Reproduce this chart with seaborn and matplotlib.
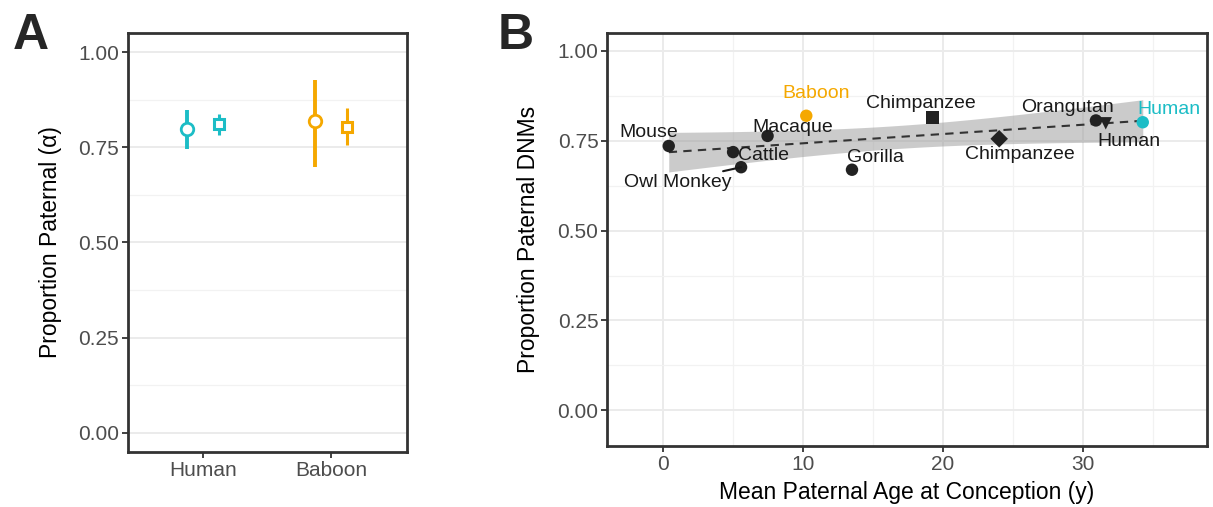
import numpy as np
import pandas as pd
import seaborn as sns
import matplotlib.pyplot as plt
from matplotlib.ticker import MultipleLocator

# Panel A: proportion paternal, two estimates per species
species_a = ["Human", "Baboon"]
circle_est = [0.799, 0.818]
circle_lo = [0.745, 0.697]
circle_hi = [0.847, 0.927]
square_est = [0.812, 0.802]
square_lo = [0.783, 0.756]
square_hi = [0.837, 0.852]

# Panel B: species values
labels_b = ["Mouse", "Cattle", "Owl Monkey", "Macaque", "Baboon", "Gorilla",
            "Chimpanzee", "Chimpanzee", "Orangutan", "Human", "Human"]
age_b = [0.43, 5.02, 5.59, 7.48, 10.24, 13.5, 19.24, 24.0, 30.9, 31.6, 34.24]
prop_b = [0.735, 0.718, 0.676, 0.763, 0.819, 0.669, 0.814, 0.755, 0.806, 0.798, 0.801]
shape_b = ["o", "o", "o", "o", "o", "o", "s", "D", "o", "v", "o"]
group_b = ["other", "other", "other", "other", "baboon", "other",
           "other", "other", "other", "other", "human"]

CYAN = "#1CBDC6"
ORANGE = "#F5A800"
DARK = "#222222"
palette = {"other": DARK, "baboon": ORANGE, "human": CYAN}

sns.set_theme(style="white")
plt.rcParams["font.family"] = ["Liberation Sans", "DejaVu Sans"]

fig = plt.figure(figsize=(12.13, 5.07), dpi=100)
ax_a = fig.add_axes([0.1055, 0.1085, 0.230, 0.8264])
ax_b = fig.add_axes([0.5008, 0.1209, 0.494, 0.814])

for ax in (ax_a, ax_b):
    for s in ax.spines.values():
        s.set_color("#333333")
        s.set_linewidth(2.0)
    ax.tick_params(axis="both", which="major", length=4.5, width=1.3, color="#333333",
                   labelcolor="#4D4D4D", labelsize=15, pad=2, bottom=True, left=True)
    ax.tick_params(which="minor", length=0)
    ax.set_axisbelow(True)

# ---- Panel A ----
xpos = np.arange(len(species_a))
cols = [CYAN, ORANGE]
for i in range(len(species_a)):
    ax_a.errorbar(xpos[i] - 0.125, circle_est[i],
                  yerr=[[circle_est[i] - circle_lo[i]], [circle_hi[i] - circle_est[i]]],
                  fmt="o", color=cols[i], mfc="white", mec=cols[i], ms=9, mew=2.0,
                  elinewidth=2.8, capsize=0, zorder=3)
    ax_a.errorbar(xpos[i] + 0.125, square_est[i],
                  yerr=[[square_est[i] - square_lo[i]], [square_hi[i] - square_est[i]]],
                  fmt="s", color=cols[i], mfc="white", mec=cols[i], ms=7.5, mew=2.2,
                  elinewidth=2.2, capsize=0, zorder=3)
ax_a.set_xlim(-0.59, 1.59)
ax_a.set_ylim(-0.05, 1.05)
ax_a.set_xticks(xpos)
ax_a.set_xticklabels(species_a)
ax_a.set_yticks([0, 0.25, 0.5, 0.75, 1.0])
ax_a.set_yticklabels(["0.00", "0.25", "0.50", "0.75", "1.00"])
ax_a.yaxis.set_minor_locator(MultipleLocator(0.125))
ax_a.grid(axis="y", which="major", color="#EBEBEB", lw=1.4)
ax_a.grid(axis="y", which="minor", color="#F2F2F2", lw=0.9)
ax_a.set_xlabel("")
ax_a.set_ylabel("Proportion Paternal (α)", fontsize=16.5, color="black")
ax_a.yaxis.set_label_coords(-0.237, 0.5)

# ---- Panel B ----
df = pd.DataFrame({"age": age_b, "prop": prop_b, "label": labels_b,
                   "shape": shape_b, "group": group_b})

# linear fit with analytic 95% band (like geom_smooth(method = "lm"))
x = df["age"].to_numpy()
y = df["prop"].to_numpy()
n = len(x)
slope, icpt = np.polyfit(x, y, 1)
resid = y - (icpt + slope * x)
s_err = np.sqrt(np.sum(resid ** 2) / (n - 2))
xg = np.linspace(x.min(), x.max(), 100)
se = s_err * np.sqrt(1 / n + (xg - x.mean()) ** 2 / np.sum((x - x.mean()) ** 2))
t975 = 2.262  # t quantile, df = 9
yg = icpt + slope * xg
ax_b.fill_between(xg, yg - t975 * se, yg + t975 * se, color="#999999", alpha=0.5,
                  lw=0, zorder=2)

sns.regplot(data=df, x="age", y="prop", scatter=False, ci=None, ax=ax_b,
            line_kws=dict(color="#333333", lw=1.5, ls=(0, (4, 3)), zorder=3))

sns.scatterplot(data=df, x="age", y="prop", hue="group", style="shape",
                markers={"o": "o", "s": "s", "D": "D", "v": "v"},
                palette=palette, s=80, linewidth=0, legend=False, ax=ax_b, zorder=4)

# label offsets in pixels (dx, dy)
offsets = [(-20, 13), (30, -3), (-63, -15), (25, 8), (10, 22), (23, 12),
           (-12, 14), (21, -16), (-28, 13), (23, -18), (26, 13)]
for i, row in df.iterrows():
    tc = palette[row["group"]] if row["group"] != "other" else "#1A1A1A"
    ax_b.annotate(row["label"], (row["age"], row["prop"]), xytext=offsets[i],
                  textcoords="offset pixels", ha="center", va="center",
                  fontsize=14, color=tc, zorder=5)
# connector for Owl Monkey
ax_b.annotate("", (age_b[2], prop_b[2]), xytext=(-18, -4), textcoords="offset pixels",
              arrowprops=dict(arrowstyle="-", color="#1A1A1A", lw=1.5,
                              shrinkA=0, shrinkB=0), zorder=5)

ax_b.set_xlim(-3.94, 38.8)
ax_b.set_ylim(-0.098, 1.049)
ax_b.set_xticks([0, 10, 20, 30])
ax_b.set_yticks([0, 0.25, 0.5, 0.75, 1.0])
ax_b.set_yticklabels(["0.00", "0.25", "0.50", "0.75", "1.00"])
ax_b.xaxis.set_minor_locator(MultipleLocator(5))
ax_b.yaxis.set_minor_locator(MultipleLocator(0.125))
ax_b.grid(which="major", color="#EBEBEB", lw=1.4)
ax_b.grid(which="minor", color="#F2F2F2", lw=0.9)
ax_b.set_xlabel("Mean Paternal Age at Conception (y)", fontsize=16.5, color="black")
ax_b.set_ylabel("Proportion Paternal DNMs", fontsize=16.5, color="black")
ax_b.yaxis.set_label_coords(-0.113, 0.5)
ax_b.xaxis.set_label_coords(0.5, -0.085)

fig.text(13 / 1213, 1 - 49 / 507, "A", fontsize=36, weight="bold", va="baseline")
fig.text(498 / 1213, 1 - 49 / 507, "B", fontsize=36, weight="bold", va="baseline")

plt.savefig("out.png", dpi=100)
